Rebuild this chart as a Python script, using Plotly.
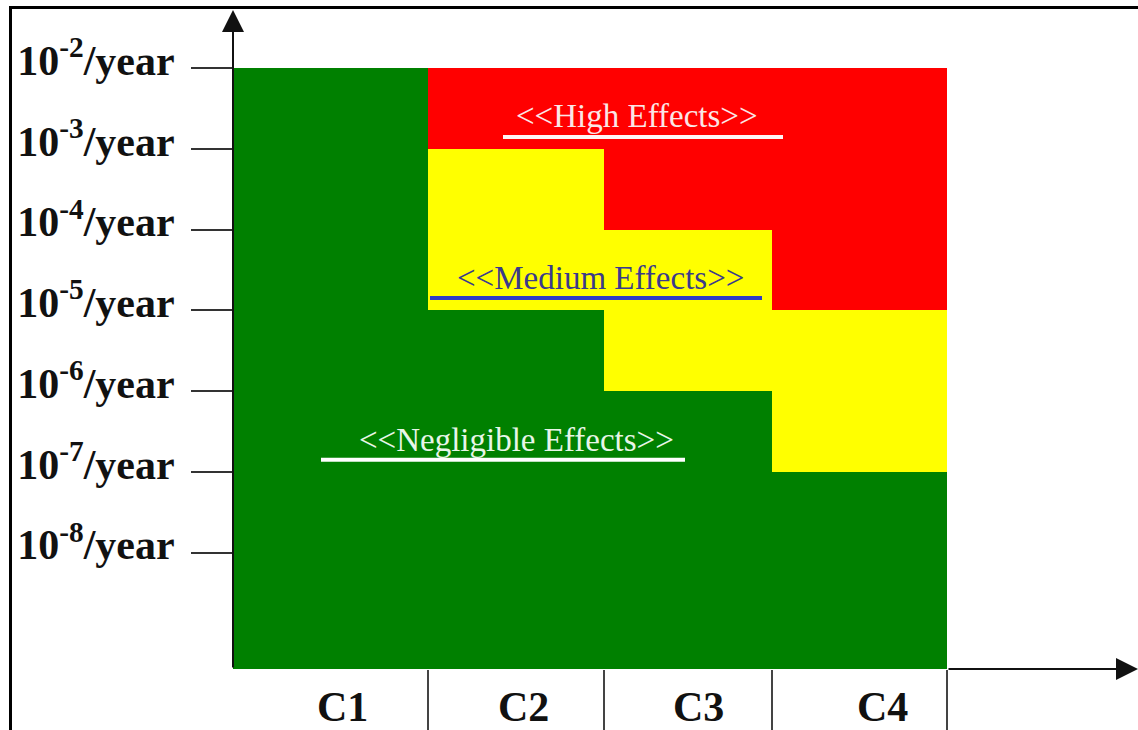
import plotly.graph_objects as go
import numpy as np

# ---------------- data ----------------
categories = ["C1", "C2", "C3", "C4"]
# exponents of frequency (log10 of events / year) bounding each zone
negligible_top = [-2, -5, -6, -7]   # top of the green zone
medium_top = [-2, -3, -4, -5]       # top of the yellow zone
high_top = [-2, -2, -2, -2]         # top of the red zone
floor_exp = -9.44                   # bottom of the diagram
axis_top_exp = -1.28                # arrow tip of the vertical axis
tick_exps = [-2, -3, -4, -5, -6, -7, -8]
tick_labels = ["10<sup>-2</sup>/year", "10<sup>-3</sup>/year", "10<sup>-4</sup>/year",
               "10<sup>-5</sup>/year", "10<sup>-6</sup>/year", "10<sup>-7</sup>/year",
               "10<sup>-8</sup>/year"]
zone_names = ["&lt;&lt;High Effects&gt;&gt;", "&lt;&lt;Medium Effects&gt;&gt;",
              "&lt;&lt;Negligible Effects&gt;&gt;"]

# ---------------- layout constants ----------------
W, H = 1138, 730
ML, MR, MT, MB = 233, 0, 10, 61
col_widths = [195, 176, 168, 175]          # column widths in x units (px-like)
x_total = W - ML - MR
edges = np.cumsum(col_widths)
centers = edges - np.array(col_widths) / 2.0
label_xshift = [12, 7, 10, 23]

GREEN, YELLOW, RED = "#008000", "#ffff00", "#ff0000"
FONT = "Liberation Serif"

fig = go.Figure()

base_g = [floor_exp] * 4
fig.add_trace(go.Bar(x=centers, width=col_widths, base=base_g,
                     y=[t - b for t, b in zip(negligible_top, base_g)],
                     marker=dict(color=GREEN, line=dict(width=0)), showlegend=False))
fig.add_trace(go.Bar(x=centers, width=col_widths, base=negligible_top,
                     y=[t - b for t, b in zip(medium_top, negligible_top)],
                     marker=dict(color=YELLOW, line=dict(width=0)), showlegend=False))
fig.add_trace(go.Bar(x=centers, width=col_widths, base=medium_top,
                     y=[t - b for t, b in zip(high_top, medium_top)],
                     marker=dict(color=RED, line=dict(width=0)), showlegend=False))

annotations = []
shapes = []

# zone labels + underlines
zone_pos = [  # (text center x, text y, underline x0, x1, underline y)
    (404, -2.594, 270, 550, -2.854),
    (367, -4.598, 197, 529, -4.846),
    (283, -6.602, 88, 452, -6.85),
]
zone_text_col = ["#fbe6e6", "#3a3a8c", "#e8f6e8"]
zone_line_col = ["#fff4f4", "#2f3cc4", "#ffffff"]
for name, (tx, ty, lx0, lx1, ly), tc, lc in zip(zone_names, zone_pos, zone_text_col, zone_line_col):
    annotations.append(dict(x=tx, y=ty, xref="x", yref="y", text=name, showarrow=False,
                            font=dict(family=FONT, size=33, color=tc),
                            xanchor="center", yanchor="middle"))
    shapes.append(dict(type="line", xref="x", yref="y", x0=lx0, x1=lx1, y0=ly, y1=ly,
                       line=dict(color=lc, width=4)))

# category labels
for c, cx, dx in zip(categories, centers, label_xshift):
    annotations.append(dict(x=cx, y=-0.058, xref="x", yref="paper", text=c, showarrow=False,
                            xshift=dx, font=dict(family=FONT, size=42, color="#111", weight="bold"),
                            xanchor="center", yanchor="middle"))

# axis arrows
annotations.append(dict(x=0, y=axis_top_exp, xref="x", yref="y", ax=0, ay=floor_exp,
                        axref="x", ayref="y", text="", showarrow=True, arrowhead=2,
                        arrowsize=2.2, arrowwidth=2, arrowcolor="#111", standoff=0))
annotations.append(dict(x=x_total, y=floor_exp, xref="x", yref="y", ax=edges[-1], ay=floor_exp,
                        axref="x", ayref="y", text="", showarrow=True, arrowhead=2,
                        arrowsize=2.2, arrowwidth=2, arrowcolor="#111", standoff=0))

# picture frame
def px_to_paper_x(px):
    return (px - ML) / (W - ML - MR)

def px_to_paper_y(py):
    return (H - MB - py) / (H - MT - MB)

shapes.append(dict(type="rect", xref="paper", yref="paper",
                   x0=px_to_paper_x(10.5), x1=px_to_paper_x(W + 20),
                   y0=px_to_paper_y(H + 20), y1=px_to_paper_y(7.5),
                   line=dict(color="#000", width=3), fillcolor="rgba(0,0,0,0)"))

fig.update_layout(
    width=W, height=H,
    margin=dict(l=ML, r=MR, t=MT, b=MB, pad=0),
    paper_bgcolor="white", plot_bgcolor="white",
    barmode="overlay", bargap=0,
    annotations=annotations, shapes=shapes,
    xaxis=dict(range=[0, x_total], showgrid=False, zeroline=False, showline=False,
               tickmode="array", tickvals=list(edges), showticklabels=False,
               ticks="outside", ticklen=61, tickwidth=2, tickcolor="#444", fixedrange=True),
    yaxis=dict(range=[floor_exp, axis_top_exp], showgrid=False, zeroline=False, showline=False,
               tickmode="array", tickvals=tick_exps, ticktext=tick_labels,
               ticks="outside", ticklen=41, tickwidth=2, tickcolor="#333",
               ticklabelstandoff=8, ticklabelshift=-8,
               tickfont=dict(family=FONT, size=42, color="#111", weight="bold"),
               fixedrange=True),
)

fig.write_html("out.html", config={"displayModeBar": False},
               post_script="document.body.style.margin='0';document.body.style.overflow='hidden';")
